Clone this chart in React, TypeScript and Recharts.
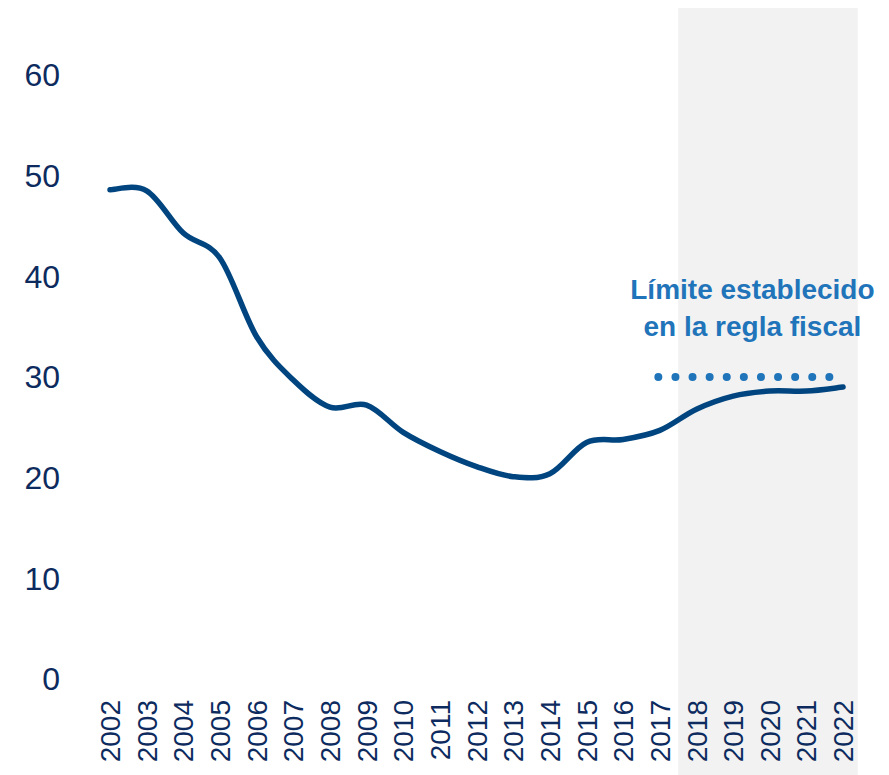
import React from 'react';
import { LineChart, Line, XAxis, YAxis, ReferenceArea, ReferenceLine } from 'recharts';

const years = [2002, 2003, 2004, 2005, 2006, 2007, 2008, 2009, 2010, 2011, 2012, 2013, 2014, 2015, 2016, 2017, 2018, 2019, 2020, 2021, 2022];
const debtValues = [48.6, 48.5, 44.3, 41.8, 34.0, 29.7, 27.0, 27.2, 24.5, 22.6, 21.1, 20.1, 20.4, 23.5, 23.8, 24.7, 26.8, 28.1, 28.6, 28.6, 29.0];
const yTicks = [0, 10, 20, 30, 40, 50, 60];
const limitValue = 30;
const limitSpan = [2016.96, 2021.63];
const shadedSpan = [2017.5, 2022.4];
const limitLabel = ['Límite establecido', 'en la regla fiscal'];

const data = years.map((y, i) => ({ year: y, value: debtValues[i] }));

const FONT = '"Liberation Sans", Arial, sans-serif';
const NAVY = '#0d2b5e';
const LINE = '#00457f';
const ACCENT = '#1f74ba';

// Excel-like smoothed line (Catmull-Rom bezier)
function excelCurve(context: any) {
  let pts: [number, number][] = [];
  return {
    areaStart() {},
    areaEnd() {},
    lineStart() {
      pts = [];
    },
    lineEnd() {
      const n = pts.length;
      if (!n) return;
      context.moveTo(pts[0][0], pts[0][1]);
      for (let i = 0; i < n - 1; i++) {
        const p0 = pts[Math.max(0, i - 1)];
        const p1 = pts[i];
        const p2 = pts[i + 1];
        const p3 = pts[Math.min(n - 1, i + 2)];
        const c1x = p1[0] + (p2[0] - p0[0]) / 6;
        const c1y = p1[1] + (p2[1] - p0[1]) / 6;
        const c2x = p2[0] - (p3[0] - p1[0]) / 6;
        const c2y = p2[1] - (p3[1] - p1[1]) / 6;
        context.bezierCurveTo(c1x, c1y, c2x, c2y, p2[0], p2[1]);
      }
    },
    point(x: number, y: number) {
      pts.push([+x, +y]);
    },
  };
}

const XTick = (props: any) => {
  const { x, y, payload } = props;
  return (
    <text
      x={x}
      y={y}
      dy="0.36em"
      transform={`rotate(-90, ${x}, ${y})`}
      textAnchor="end"
      fill={NAVY}
      fontSize={28}
      fontFamily={FONT}
    >
      {payload.value}
    </text>
  );
};

const LimitLabel = (props: any) => {
  const vb = props.viewBox || {};
  const x0 = vb.x ?? vb.x1 ?? 0;
  const w = vb.width ?? ((vb.x2 ?? x0) - x0);
  const y0 = vb.y ?? vb.y1 ?? 0;
  const cx = x0 + w / 2 + 8.5;
  return (
    <text fill={ACCENT} fontSize={28} fontWeight="bold" fontFamily={FONT} textAnchor="middle">
      <tspan x={cx} y={y0 - 78}>{limitLabel[0]}</tspan>
      <tspan x={cx} y={y0 - 41}>{limitLabel[1]}</tspan>
    </text>
  );
};

export default function App() {
  return (
    <div style={{ position: 'absolute', left: 0, top: 0, width: 889, height: 775, background: '#fff' }}>
      <LineChart
        width={889}
        height={775}
        data={data}
        margin={{ top: 75, right: 27.6, bottom: 0, left: 0 }}
      >
        <ReferenceArea
          x1={shadedSpan[0]}
          x2={shadedSpan[1]}
          y1={-9.54}
          y2={66.66}
          fill="#f2f2f2"
          fillOpacity={1}
          stroke="none"
          ifOverflow="visible"
        />
        <XAxis
          dataKey="year"
          type="number"
          domain={[2001.5, 2022.5]}
          ticks={years}
          interval={0}
          axisLine={false}
          tickLine={false}
          tickSize={6}
          tickMargin={15}
          height={96}
          tick={<XTick />}
        />
        <YAxis
          domain={[0, 60]}
          ticks={yTicks}
          interval={0}
          axisLine={false}
          tickLine={false}
          tickSize={6}
          tickMargin={25.7}
          width={91.7}
          tick={{ fill: NAVY, fontSize: 32, fontFamily: FONT }}
        />
        <ReferenceLine
          segment={[
            { x: limitSpan[0], y: limitValue },
            { x: limitSpan[1], y: limitValue },
          ]}
          stroke={ACCENT}
          strokeWidth={8}
          strokeDasharray="0 17.1"
          strokeLinecap="round"
          ifOverflow="visible"
          label={<LimitLabel />}
        />
        <Line
          dataKey="value"
          type={excelCurve as any}
          stroke={LINE}
          strokeWidth={5.5}
          strokeLinecap="round"
          dot={false}
          activeDot={false}
          isAnimationActive={false}
        />
      </LineChart>
    </div>
  );
}
